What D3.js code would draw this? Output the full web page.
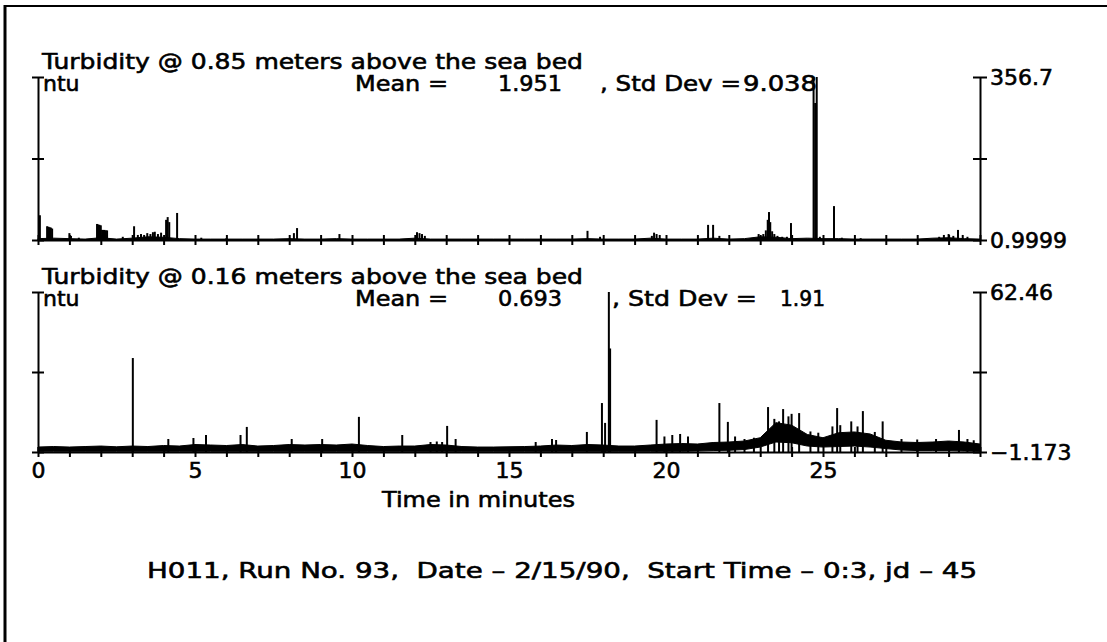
<!DOCTYPE html>
<html lang="en">
<head>
<meta charset="UTF-8" />
<title>Turbidity - H011 Run 93</title>
<style>
  body { margin: 0; background: #fff; }
  svg text { font-family: "DejaVu Sans", sans-serif; font-size: 22px; fill: #000; stroke: #000; stroke-width: 0.6px; }
  .axis text { font-family: "DejaVu Sans", sans-serif; font-size: 22px; }
  .axis path, .axis line { stroke: #000; stroke-width: 2; }
</style>
</head>
<body>
<div id="chart"></div>
<script src="https://cdn.jsdelivr.net/npm/d3@7/dist/d3.min.js"></script>
<script>

// time axis (minutes)
var minuteTicks = [0,1,2,3,4,5,6,7,8,9,10,11,12,13,14,15,16,17,18,19,20,21,22,23,24,25,26,27,28,29,30];
var minuteLabels = [0,5,10,15,20,25];

// sample times for the dense noise band
var bandTime = [0,0.5,1,1.5,2,2.5,3,3.5,4,4.5,5,5.5,6,6.5,7,7.5,8,8.5,9,9.5,
                10,10.5,11,11.5,12,12.5,13,13.5,14,14.5,15,15.5,16,16.5,17,17.5,18,18.5,19,19.5,
                20,20.5,21,21.5,22,22.5,23,23.5,24,24.5,25,25.5,26,26.5,27,27.5,28,28.5,29,29.5,30];

// --- 0.85 m above the sea bed (ntu)
var range1 = [0.9999, 356.7];
var rightLabels1 = ["0.9999", "356.7"];
var bandHigh1 = [4,5,4,3,6,3,5,8,7,4,
                 3,3,3,3,3,3,4,3,3,4,
                 3,3,3,3,5,3,3,3,3,3,
                 3,3,3,3,3,4,3,3,3,5,
                 3,3,3,5,3,4,8,7,4,5,
                 4,4,3,3,3,3,3,5,6,4,
                 3];
var spikes1 = [[0.06,55],[0.29,31],[0.33,30],[0.37,29],[0.41,28],[0.45,26],
               [1.0,16],[1.05,10],[1.3,6],
               [1.88,36],[1.92,35],[1.96,34],[2.0,33],[2.04,23],[2.08,23],[2.12,23],[2.16,22],[2.2,22],
               [2.7,8],[3.06,31],
               [3.18,12],[3.28,14],[3.38,12],[3.48,16],[3.58,14],[3.66,18],[3.72,19],[3.82,14],[3.92,17],
               [4.08,45],[4.13,51],[4.18,40],[4.43,60],
               [5.2,6],[6.0,5],[8.15,16],[8.25,27],[9.6,14],
               [12.07,18],[12.15,16],[12.23,14],[12.32,10],
               [17.5,21],[17.9,8],
               [19.55,10],[19.62,17],[19.7,14],[19.8,12],
               [21.34,34],[21.5,34],[21.7,10],
               [22.95,14],[23.1,14],[23.18,22],[23.24,45],[23.28,62],[23.32,40],[23.38,20],[23.45,14],[23.55,10],[23.7,8],[23.85,8],
               [23.98,38],
               [24.7,356.7],[24.75,300],[24.8,356.7],[24.9,8],
               [25.35,75],[25.6,6],[26.2,5],
               [28.7,8],[28.85,12],[29.0,14],[29.15,10],[29.3,23],[29.45,12],[29.6,8]];

// --- 0.16 m above the sea bed (ntu)
var range2 = [-1.173, 62.46];
var rightLabels2 = ["\u22121.173", "62.46"];
var bandLow2 = [-0.9,-0.9,-0.9,-0.9,-0.9,-0.9,-0.9,-0.9,-0.9,-0.9,
                -0.9,-0.9,-0.9,-0.9,-0.9,-0.9,-0.9,-0.9,-0.9,-0.9,
                -0.9,-0.9,-0.9,-0.9,-0.9,-0.9,-0.9,-0.9,-0.9,-0.9,
                -0.9,-0.9,-0.9,-0.9,-0.9,-0.9,-0.9,-0.9,-0.9,-0.9,
                -0.9,-0.9,-0.8,-0.6,-0.5,-0.2,0.8,2.8,2.5,1.2,
                0.8,1.0,1.2,0.8,0.2,-0.4,-0.6,-0.6,-0.6,-0.8,
                -0.9];
var bandHigh2 = [0.8,1.0,0.8,1.0,1.2,0.9,1.2,1.0,1.4,1.2,
                 1.8,1.6,1.4,1.8,1.2,1.4,1.8,1.6,1.8,1.6,
                 2.0,1.4,1.0,1.2,1.2,1.8,1.6,1.0,0.8,0.8,
                 0.9,1.0,1.2,1.6,1.4,1.8,1.6,1.2,1.2,1.6,
                 2.0,2.2,2.0,2.6,2.8,3.2,4.5,10.5,9.5,5.8,
                 4.5,6.5,6.8,6.0,3.5,2.8,2.6,2.8,3.2,2.8,
                 2.0];
var spikes2 = [[3.02,36.2],[4.15,4.0],[4.95,4.4],[5.35,5.6],[6.45,5.6],[6.65,8.8],
               [8.08,4.0],[9.05,4.0],[10.22,12.8],[11.6,5.6],
               [12.5,2.8],[12.7,3.0],[12.87,2.8],[13.03,9.2],[13.3,4.0],
               [15.85,2.8],[16.37,4.0],[16.5,3.6],[17.48,6.8],
               [17.96,18.3],[18.06,10.4],[18.18,62.46],[18.22,40],
               [19.7,11.6],[19.95,5.0],[20.2,5.6],[20.45,6.0],[20.7,5.0],
               [21.7,18.3],[21.97,10.8],[22.2,5.0],[22.5,4.0],[22.8,4.5],
               [23.25,16.7],[23.45,12.0],[23.6,11.0],[23.73,15.9],[23.9,13.0],[24.0,14.0],[24.24,14.3],
               [24.6,7.0],[24.85,6.5],[25.3,9.0],[25.45,16.3],[25.55,9.5],
               [25.9,11.0],[26.1,9.0],[26.27,15.1],[26.65,6.8],[26.9,11.0],
               [27.5,4.0],[28.0,3.8],[28.6,4.0],[29.33,7.6],[29.6,4.0],[29.8,3.5]];

var W = 1107, H = 642;

var svg = d3.select("#chart")
            .append("svg")
            .attr("width", W)
            .attr("height", H);

// page frame (left and top edges)
svg.append("line")
   .attr("x1", 5).attr("x2", 5).attr("y1", 5).attr("y2", H)
   .attr("stroke", "#000").attr("stroke-width", 3);
svg.append("line")
   .attr("x1", 4).attr("x2", W).attr("y1", 6).attr("y2", 6)
   .attr("stroke", "#000").attr("stroke-width", 2);

var xScale = d3.scaleLinear()
               .domain([0, 30])
               .range([38, 980]);

function drawPanel(p) {
  var yScale = d3.scaleLinear()
                 .domain(p.range)
                 .range([p.bottom, p.top]);
  var base = p.range[0];
  var mid = (p.range[0] + p.range[1]) / 2;
  var g = svg.append("g");

  // dense noise band
  var area = d3.area()
      .x(function(d, i) { return xScale(bandTime[i]); })
      .y0(function(d, i) { return yScale(p.low ? p.low[i] : base); })
      .y1(function(d) { return yScale(d); });
  g.append("path")
   .datum(p.high)
   .attr("d", area)
   .attr("fill", "#000")
   .attr("stroke", "#000")
   .attr("stroke-width", 1);

  // spikes
  g.selectAll("line.spike")
   .data(p.spikes)
   .enter()
   .append("line")
   .attr("class", "spike")
   .attr("x1", function(d) { return xScale(d[0]); })
   .attr("x2", function(d) { return xScale(d[0]); })
   .attr("y1", yScale(base))
   .attr("y2", function(d) { return yScale(d[1]); })
   .attr("stroke", "#000")
   .attr("stroke-width", 2);

  // x axis
  var xAxis = d3.axisBottom(xScale)
      .tickValues(minuteTicks)
      .tickSize(5)
      .tickPadding(5)
      .tickSizeOuter(0)
      .tickFormat(function(d) {
        return (p.xLabels && minuteLabels.indexOf(d) >= 0) ? d : "";
      });
  var gx = g.append("g")
            .attr("class", "axis")
            .attr("transform", "translate(0," + p.bottom + ")")
            .call(xAxis);
  gx.selectAll(".tick line").attr("y1", -5);

  // left axis
  var yLeft = d3.axisLeft(yScale)
      .tickValues([base, mid, p.range[1]])
      .tickSize(6)
      .tickSizeOuter(0)
      .tickFormat("");
  var gl = g.append("g")
            .attr("class", "axis")
            .attr("transform", "translate(38,0)")
            .call(yLeft);
  gl.selectAll(".tick line").attr("x1", 6);

  // right axis
  var yRight = d3.axisRight(yScale)
      .tickValues([base, mid, p.range[1]])
      .tickSize(7)
      .tickPadding(3)
      .tickSizeOuter(0)
      .tickFormat(function(d, i) {
        if (i === 0) return p.rightLabels[0];
        if (i === 2) return p.rightLabels[1];
        return "";
      });
  var gr = g.append("g")
            .attr("class", "axis")
            .attr("transform", "translate(980,0)")
            .call(yRight);
  gr.selectAll(".tick line").attr("x1", -7);

  // headings
  g.append("text")
   .attr("x", 42).attr("y", p.top - 8)
   .attr("textLength", 541).attr("lengthAdjust", "spacingAndGlyphs")
   .text(p.title);
  g.append("text")
   .attr("x", 43).attr("y", p.top + 14)
   .text("ntu");
  g.append("text")
   .attr("x", 355).attr("y", p.top + 14)
   .attr("textLength", 93).attr("lengthAdjust", "spacingAndGlyphs")
   .text("Mean =");
  g.append("text")
   .attr("x", 498).attr("y", p.top + 14)
   .attr("textLength", 64).attr("lengthAdjust", "spacingAndGlyphs")
   .text(p.mean);
  g.append("text")
   .attr("x", p.sdX[0]).attr("y", p.top + 14)
   .attr("textLength", p.sdX[1] - p.sdX[0]).attr("lengthAdjust", "spacingAndGlyphs")
   .text(", Std Dev =");
  g.append("text")
   .attr("x", p.sdX[2]).attr("y", p.top + 14)
   .attr("textLength", p.sdX[3] - p.sdX[2]).attr("lengthAdjust", "spacingAndGlyphs")
   .text(p.sd);
}

drawPanel({
  range: range1, top: 77, bottom: 240,
  high: bandHigh1, spikes: spikes1, rightLabels: rightLabels1,
  xLabels: false,
  title: "Turbidity @ 0.85 meters above the sea bed",
  mean: "1.951", sd: "9.038", sdX: [600, 741, 743, 817]
});

drawPanel({
  range: range2, top: 292, bottom: 452,
  low: bandLow2, high: bandHigh2, spikes: spikes2, rightLabels: rightLabels2,
  xLabels: true,
  title: "Turbidity @ 0.16 meters above the sea bed",
  mean: "0.693", sd: "1.91", sdX: [612, 757, 780, 825]
});

// x axis title
svg.append("text")
   .attr("x", 382).attr("y", 507)
   .attr("textLength", 193).attr("lengthAdjust", "spacingAndGlyphs")
   .text("Time in minutes");

// run info
svg.append("text")
   .attr("x", 147).attr("y", 578)
   .attr("textLength", 830).attr("lengthAdjust", "spacingAndGlyphs")
   .attr("xml:space", "preserve")
   .style("white-space", "pre")
   .text("H011, Run No. 93,  Date \u2013 2/15/90,  Start Time \u2013 0:3, jd \u2013 45");

</script>
</body>
</html>
